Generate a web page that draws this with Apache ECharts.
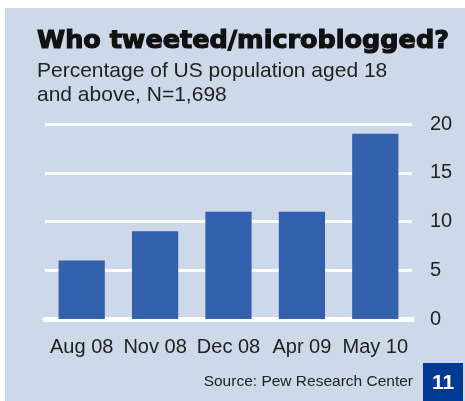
<!DOCTYPE html>
<html><head><meta charset="utf-8">
<script src="https://cdn.jsdelivr.net/npm/echarts@6/dist/echarts.min.js"></script>
<style>html,body{margin:0;padding:0;background:#fff}#c{width:465px;height:401px}</style>
</head><body><div id="c"></div>
<script>
var categories = ['Aug 08', 'Nov 08', 'Dec 08', 'Apr 09', 'May 10'];
var values = [6, 9, 11, 11, 19];
var yTicks = [0, 5, 10, 15, 20];
var titleText = 'Who tweeted/microblogged?';
var subLines = ['Percentage of US population aged 18', 'and above, N=1,698'];
var sourceText = 'Source: Pew Research Center';
var pageNo = '11';

var chart = echarts.init(document.getElementById('c'), null, {renderer: 'canvas'});
chart.setOption({
  animation: false,
  backgroundColor: '#ffffff',
  graphic: [
    {type: 'rect', z: -10, shape: {x: 5, y: 8, width: 460, height: 393}, style: {fill: '#cdd8e9'}},
    {type: 'rect', z: 5, shape: {x: 423, y: 363, width: 40, height: 38}, style: {fill: '#003a94'}},
    {type: 'text', z: 6, x: 443, y: 383, style: {text: pageNo, fill: '#ffffff', font: 'bold 21px "Liberation Sans", Arial', textAlign: 'center', textVerticalAlign: 'middle'}},
    {type: 'text', z: 6, x: 413, y: 382, style: {text: sourceText, fill: '#222222', font: '15.5px "Liberation Sans", Arial', textAlign: 'right', textVerticalAlign: 'middle'}},
    {type: 'text', z: 6, x: 37, y: 41, style: {text: titleText, fill: '#111111', stroke: '#111111', lineWidth: 1.2, font: 'bold 25.5px "DejaVu Sans"', textAlign: 'left', textVerticalAlign: 'middle'}},
    {type: 'text', z: 6, x: 37, y: 71, style: {text: subLines[0], fill: '#222222', font: '21px "Liberation Sans", Arial', textAlign: 'left', textVerticalAlign: 'middle'}},
    {type: 'text', z: 6, x: 37, y: 95, style: {text: subLines[1], fill: '#222222', font: '21px "Liberation Sans", Arial', textAlign: 'left', textVerticalAlign: 'middle'}}
  ],
  grid: {left: 45, right: 53, top: 124, bottom: 82},
  xAxis: {
    type: 'category', data: categories,
    axisLine: {show: true, lineStyle: {color: '#ffffff', width: 5}},
    axisTick: {show: false},
    axisLabel: {color: '#222222', fontSize: 20, fontFamily: '"Liberation Sans", Arial', margin: 18, interval: 0}
  },
  yAxis: {
    type: 'value', position: 'right', min: yTicks[0], max: yTicks[yTicks.length - 1], interval: 5,
    axisLine: {show: false}, axisTick: {show: false},
    axisLabel: {color: '#222222', fontSize: 20, fontFamily: '"Liberation Sans", Arial', margin: 18},
    splitLine: {lineStyle: {color: '#ffffff', width: 3}}
  },
  series: [{
    type: 'bar', data: values, barWidth: '63%',
    itemStyle: {color: '#3461ad'}
  }]
});
</script></body></html>
